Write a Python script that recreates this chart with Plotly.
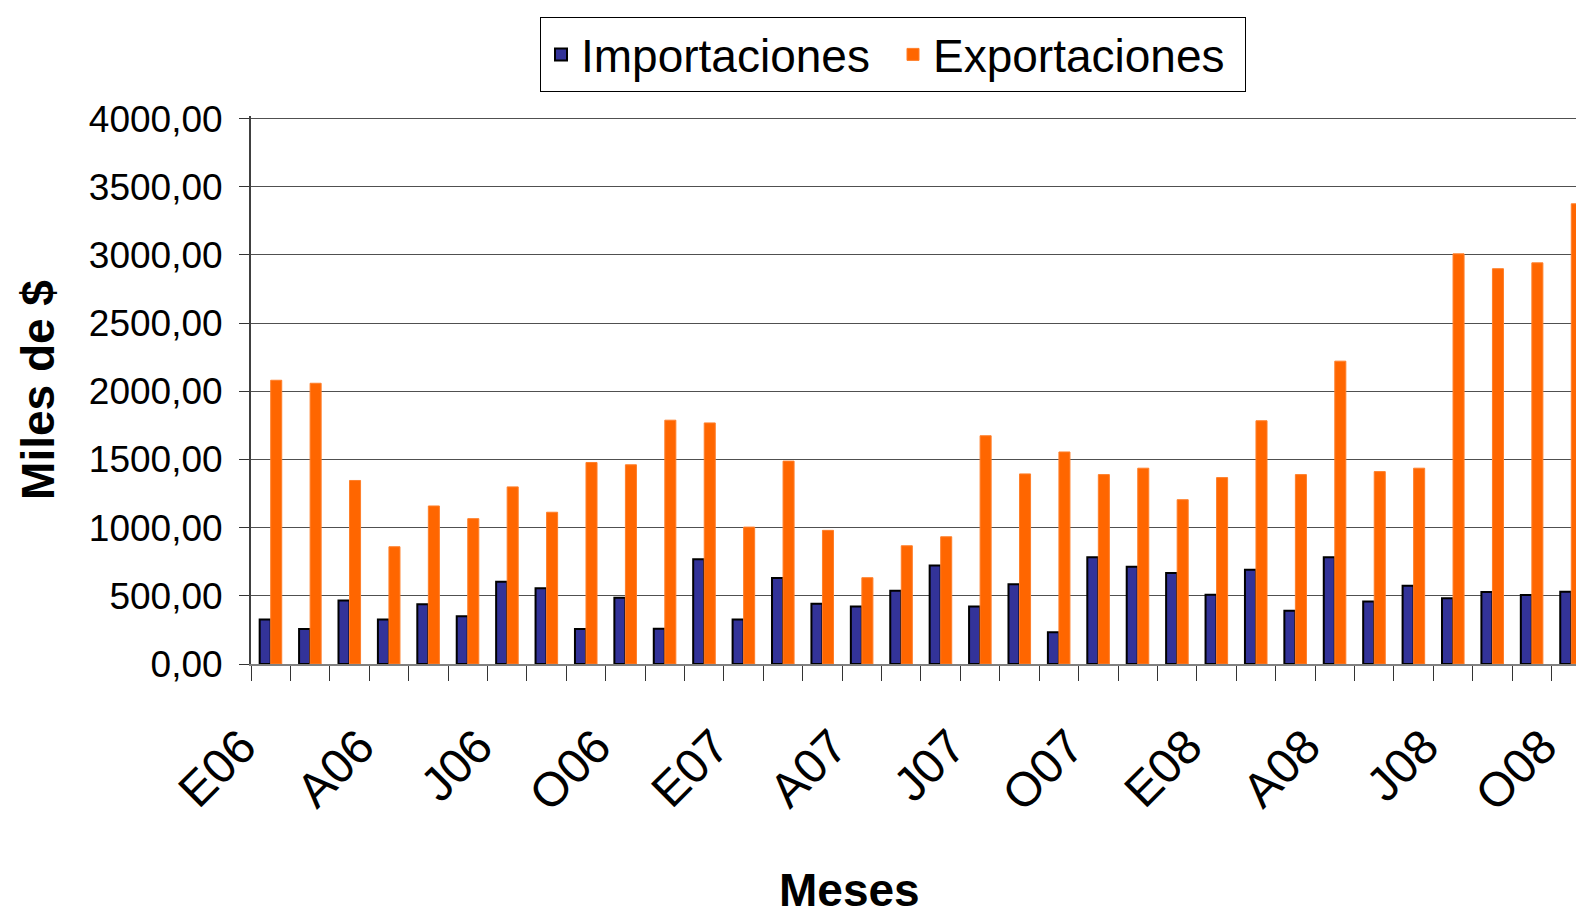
import plotly.graph_objects as go

months = ["E06", "F06", "M06", "A06", "M06", "J06", "J06", "A06", "S06", "O06", "N06", "D06",
          "E07", "F07", "M07", "A07", "M07", "J07", "J07", "A07", "S07", "O07", "N07", "D07",
          "E08", "F08", "M08", "A08", "M08", "J08", "J08", "A08", "S08", "O08"]

importaciones = [326, 257, 466, 326, 439, 350, 603, 556, 257, 485,
                 258, 768, 327, 631, 442, 422, 538, 722, 422, 584,
                 232, 783, 714, 668, 508, 692, 390, 783, 459, 574,
                 483, 528, 506, 530]

exportaciones = [2081, 2059, 1346, 860, 1159, 1066, 1299, 1113, 1478, 1461,
                 1788, 1768, 1004, 1488, 980, 633, 867, 933, 1674, 1394,
                 1555, 1389, 1436, 1205, 1367, 1784, 1389, 2221, 1411, 1436,
                 3008, 2899, 2942, 3375]

y_ticks = [0, 500, 1000, 1500, 2000, 2500, 3000, 3500, 4000]

n = len(months)
xpos = list(range(n))
tickvals = [i - 0.5 for i in range(n + 1)]
ticktext = [months[i] if (i < n and i % 3 == 0) else "" for i in range(n + 1)]

FONT = "Liberation Sans, Arial, sans-serif"

W, H = 1576, 916
ML, MT, MB = 251, 116, 252
PH = H - MT - MB
PW = W - ML

fig = go.Figure()
fig.add_trace(go.Bar(
    x=xpos, y=importaciones, name="Importaciones",
    marker=dict(color="#333399", line=dict(color="#000000", width=2)),
))
fig.add_trace(go.Bar(
    x=xpos, y=exportaciones, name="Exportaciones",
    marker=dict(color="#FF6600", line=dict(color="#FF7F2A", width=1)),
))

fig.update_layout(
    width=W, height=H,
    margin=dict(l=ML, r=0, t=MT, b=MB, pad=0, autoexpand=False),
    paper_bgcolor="white", plot_bgcolor="white",
    separators=",.",
    barmode="group", bargap=0.44, bargroupgap=0.0,
    font=dict(family=FONT, color="black"),
    legend=dict(
        orientation="h", x=(893 - ML) / PW, xanchor="center", y=1 + (MT - 17) / PH, yanchor="top",
        bordercolor="black", borderwidth=1, bgcolor="white",
        font=dict(size=46, family=FONT), entrywidth=307,
    ),
    xaxis=dict(
        range=[-0.5, 33.12], tickmode="array", tickvals=tickvals, ticktext=ticktext,
        tickangle=-45, tickfont=dict(size=48, family=FONT),
        ticks="outside", ticklen=15, tickcolor="#333333", tickwidth=1,
        showline=True, linecolor="#808080", linewidth=2,
        showgrid=False, zeroline=False, ticklabelstandoff=18, ticklabelshift=-9,
    ),
    yaxis=dict(
        range=[0, 4019], tickmode="array", tickvals=y_ticks, tickformat=".2f",
        tickfont=dict(size=37, family=FONT),
        ticks="outside", ticklen=10, tickcolor="#333333",
        showline=True, linecolor="#404040", linewidth=2,
        showgrid=True, gridcolor="#505050", gridwidth=1, zeroline=False,
        ticklabelstandoff=9,
        title=dict(text="<b>Miles de $</b>", font=dict(size=46, family=FONT), standoff=20),
    ),
    annotations=[dict(
        text="<b>Meses</b>", xref="paper", yref="paper",
        x=(849 - ML) / PW, y=-(MB + 2) / PH, xanchor="center", yanchor="bottom",
        showarrow=False, font=dict(size=46, family=FONT),
    )],
)

fig.write_html(
    "out.html",
    config={"displayModeBar": False},
    post_script="document.body.style.margin='0';document.body.style.overflow='hidden';",
)
